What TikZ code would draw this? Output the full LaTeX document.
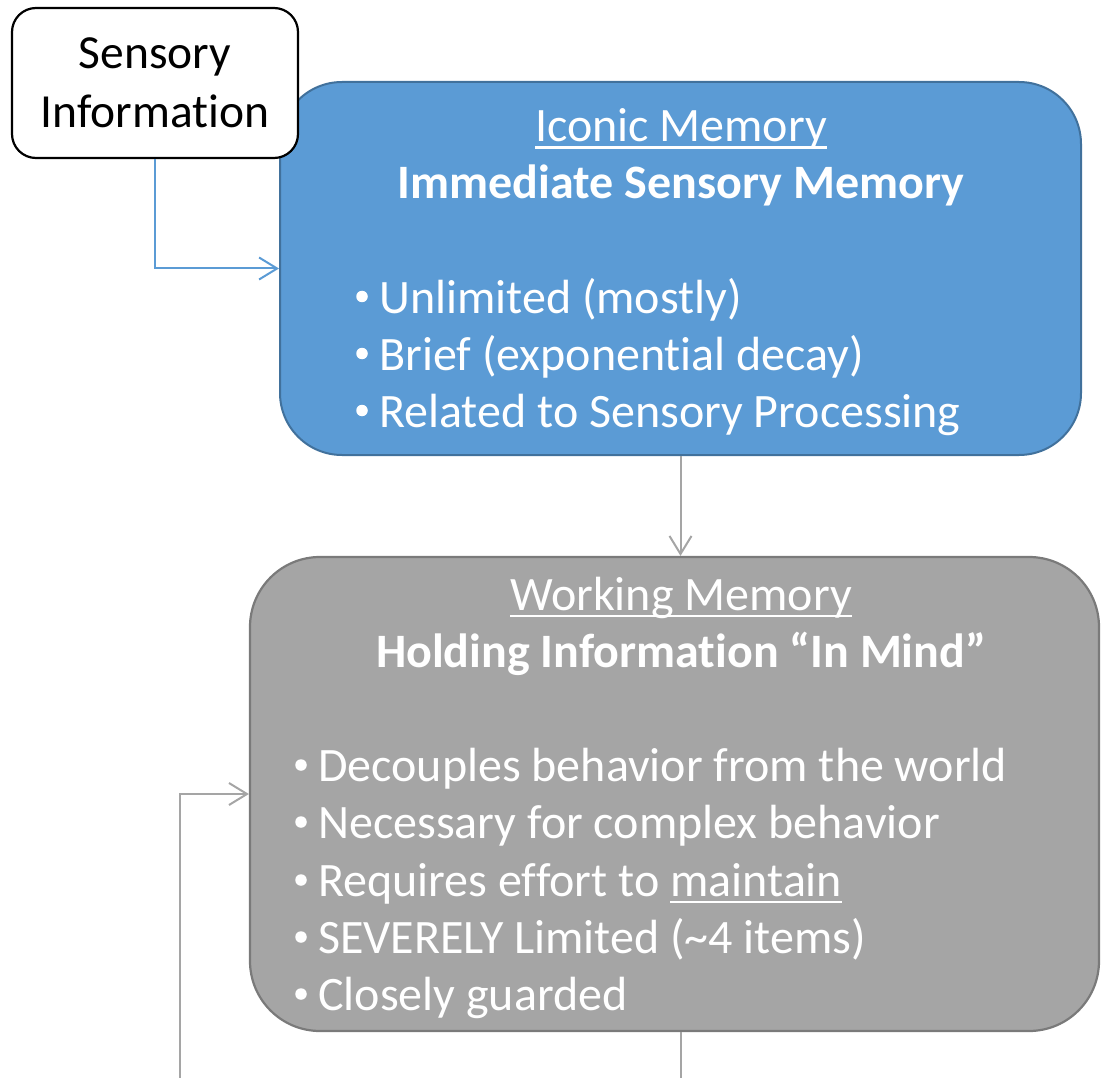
\documentclass[tikz,border=0pt]{standalone}
\usepackage{fontspec}
\setmainfont{Carlito}[Ligatures={NoCommon}]
\usetikzlibrary{arrows.meta}
\definecolor{iconfill}{HTML}{5B9BD5}
\definecolor{icondraw}{HTML}{41719C}
\definecolor{workfill}{HTML}{A5A5A5}
\definecolor{workdraw}{HTML}{7A7A7A}
\definecolor{linkgray}{HTML}{A5A5A5}
\newcommand\myul[1]{\sbox0{#1}\rlap{\rule[-7pt]{\wd0}{2.5pt}}\usebox0}
\tikzset{
  bigfont/.style={font=\fontsize{48}{58}\selectfont},
  iconbox/.style={draw=icondraw, fill=iconfill, line width=2pt, rounded corners=62pt},
  workbox/.style={draw=workdraw, fill=workfill, line width=2.2pt, rounded corners=70pt},
  sensbox/.style={draw=black, fill=white, line width=2.2pt, rounded corners=24pt, font=\fontsize{47.5}{59}\selectfont, align=center, inner sep=0pt},
  wtext/.style={bigfont, text=white, inner sep=0pt},
  bulletmark/.style={circle, fill=white, minimum size=11.5pt, inner sep=0pt},
  bullettext/.style={wtext, anchor=base west},
  tip/.style={-{Straight Barb[length=18pt,width=22pt]}},
  bluelink/.style={draw=iconfill, line width=2pt, tip},
  graylink/.style={draw=linkgray, line width=2pt, tip},
  grayline/.style={draw=linkgray, line width=2pt}
}
\begin{document}
\begin{tikzpicture}[x=1pt,y=-1pt]
\useasboundingbox (0,0) rectangle (1101,1078);
% boxes
\node[iconbox, minimum width=801pt, minimum height=373pt] (iconic) at (680.5,268.5) {};
\node[workbox, minimum width=849pt, minimum height=474pt] (working) at (674.5,794) {};
\node[sensbox, minimum width=286pt, minimum height=150pt] (sens) at (155,83) {Sensory\\Information};
% iconic text
\node[wtext, anchor=base] (iconicT) at (681,142) {\myul{Iconic Memory}};
\node[wtext, anchor=base, font=\fontsize{48}{58}\selectfont\bfseries] (iconicS) at (681,199) {Immediate Sensory Memory};
\node[bulletmark] (ib1) at (362,296.5) {};
\node[bullettext] (it1) at (379,313) {Unlimited (mostly)};
\node[bulletmark] (ib2) at (362,353.5) {};
\node[bullettext] (it2) at (379,370) {Brief (exponential decay)};
\node[bulletmark] (ib3) at (362,410.5) {};
\node[bullettext] (it3) at (379,427) {Related to Sensory Processing};
% working text
\node[wtext, anchor=base] (workT) at (681,610) {\myul{Working Memory}};
\node[wtext, anchor=base, font=\fontsize{48}{58}\selectfont\bfseries] (workS) at (681,667) {Holding Information “In Mind”};
\node[bulletmark] (wb1) at (301,765) {};
\node[bullettext] (wt1) at (318,781) {Decouples behavior from the world};
\node[bulletmark] (wb2) at (301,822) {};
\node[bullettext] (wt2) at (318,838) {Necessary for complex behavior};
\node[bulletmark] (wb3) at (301,880) {};
\node[bullettext] (wt3) at (318,896) {Requires effort to \myul{maintain}};
\node[bulletmark] (wb4) at (301,937) {};
\node[bullettext] (wt4) at (318,953) {SEVERELY Limited (\textasciitilde4 items)};
\node[bulletmark] (wb5) at (301,994) {};
\node[bullettext] (wt5) at (318,1010) {Closely guarded};
% connectors
\coordinate (down) at (680.5,1078);
\coordinate (loop) at (180,1078);
\draw[bluelink] (sens.south) |- (iconic.west);
\draw[graylink] (iconic.south) -- (iconic.south |- working.north);
\draw[grayline] (iconic.south |- working.south) -- (down);
\draw[graylink] (loop) |- (working.west);
\end{tikzpicture}
\end{document}
